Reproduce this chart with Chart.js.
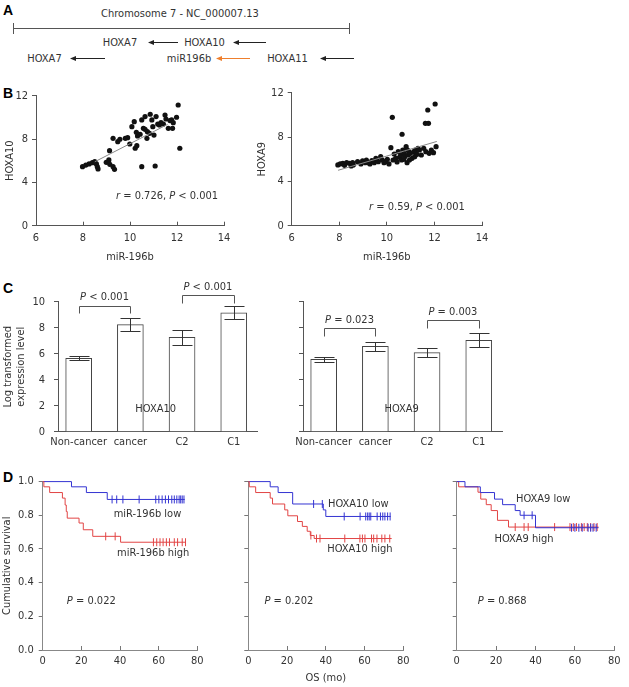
<!DOCTYPE html>
<html>
<head>
<meta charset="utf-8">
<script src="https://cdn.jsdelivr.net/npm/chart.js@4.4.0/dist/chart.umd.min.js"></script>
<style>
  html, body { margin: 0; padding: 0; background: #fff; }
  #page { position: relative; width: 629px; height: 687px; overflow: hidden; }
  #page canvas, #page svg { position: absolute; left: 0; top: 0; }
</style>
</head>
<body>
<div id="page">
  <svg width="629" height="687">
    <g font-family="'DejaVu Sans Condensed', 'DejaVu Sans', sans-serif" font-size="11" fill="#333">
      <text x="180" y="17" text-anchor="middle">Chromosome 7 - NC_000007.13</text>
      <text x="120" y="46" text-anchor="middle">HOXA7</text>
      <text x="204.5" y="46" text-anchor="middle">HOXA10</text>
      <text x="44.5" y="62" text-anchor="middle">HOXA7</text>
      <text x="189" y="62" text-anchor="middle">miR196b</text>
      <text x="287.5" y="62" text-anchor="middle">HOXA11</text>
    </g>
    <g stroke="#555" stroke-width="1" fill="none">
      <path d="M13 28.5 H350 M13.5 23 V34 M349.5 23 V34"/>
    </g>
    <g stroke="#222" stroke-width="1" fill="#222">
      <path d="M266 42.5 H238"/><path d="M233 42.5 L239 40 L239 45 Z" stroke="none"/>
      <path d="M178 42.5 H153"/><path d="M148 42.5 L154 40 L154 45 Z" stroke="none"/>
      <path d="M105 58.5 H75"/><path d="M70 58.5 L76 56 L76 61 Z" stroke="none"/>
      <path d="M354 58.5 H325"/><path d="M320 58.5 L326 56 L326 61 Z" stroke="none"/>
    </g>
    <g stroke="#ee7f2d" fill="#ee7f2d">
      <path d="M250 58.5 H221"/><path d="M216 58.5 L222 56 L222 61 Z" stroke="none"/>
    </g>
    <g font-family="'Liberation Sans', Arial, sans-serif" font-weight="bold" font-size="14" fill="#000">
      <text x="3" y="15">A</text>
      <text x="3" y="98">B</text>
      <text x="3" y="293">C</text>
      <text x="3" y="482">D</text>
    </g>
  </svg>
  <canvas id="scatterA10"></canvas>
  <canvas id="scatterA9"></canvas>
  <canvas id="barsA10"></canvas>
  <canvas id="barsA9"></canvas>
  <canvas id="kmMir"></canvas>
  <canvas id="kmA10"></canvas>
  <canvas id="kmA9"></canvas>
</div>
<script>
'use strict';

const FONT = "'DejaVu Sans Condensed', 'DejaVu Sans', sans-serif";

// B: miR-196b vs HOXA10
const mirForA10 = [7.98, 8.12, 8.26, 8.4, 8.5, 8.57, 8.61, 8.64, 8.99, 9.1, 9.14, 9.28, 9.34, 9.13,
  9.28, 9.48, 9.57, 9.8, 9.9, 9.99, 10.08, 10.18, 10.22, 10.29, 10.32, 10.43, 10.5, 10.57, 10.64,
  10.72, 10.74, 10.83, 10.86, 10.93, 10.97, 11.02, 11.11, 11.18, 11.25, 11.32, 11.42, 11.49, 11.53,
  11.63, 11.7, 11.77, 11.84, 11.81, 11.98, 12.05, 12.12, 10.5, 11.07, 10.64, 10.27];
const hoxa10Level = [5.45, 5.6, 5.7, 5.82, 5.91, 5.7, 5.45, 5.24, 5.85, 6.07, 5.67, 5.45, 5.2, 6.93,
  8.07, 7.76, 7.98, 8.07, 8.13, 7.54, 9.14, 9.6, 7.15, 7.39, 8.28, 8.44, 9.76, 8.99, 10.07,
  8.07, 8.68, 8.53, 10.29, 9.76, 9.14, 8.37, 10.07, 9.39, 9.3, 9.51, 9.39, 10.22, 9.85,
  8.99, 9.7, 9.76, 9.51, 8.99, 10.01, 11.14, 7.15, 5.45, 5.51, 8.9, 8.62];
const fitA10X = [8.5, 11.6];
const fitA10Y = [5.9, 9.35];

// B: miR-196b vs HOXA9
const mirForA9 = [7.94, 8.04, 8.15, 8.22, 8.31, 8.43, 8.5, 8.56, 8.59, 8.77, 8.91, 8.98, 9.09, 9.14,
  9.23, 9.29, 9.37, 9.47, 9.56, 9.64, 9.74, 9.81, 9.88, 9.95, 10.02, 10.09, 10.17, 10.23, 10.26,
  10.31, 10.37, 10.43, 10.48, 10.53, 10.58, 10.62, 10.64, 10.67, 10.71, 10.75, 10.81, 10.85, 10.87,
  10.89, 10.92, 10.95, 10.99, 11.06, 11.13, 11.2, 11.22, 11.31, 11.37, 11.45, 11.55, 11.62, 11.64,
  11.72, 11.75, 11.78, 11.87, 11.96, 12.03, 12.07, 11.17, 11.27, 10.71, 9.54];
const hoxa9Level = [5.48, 5.57, 5.63, 5.45, 5.69, 5.63, 5.39, 5.69, 5.48, 5.78, 5.57, 5.84, 5.69, 5.93,
  5.69, 5.57, 5.87, 5.69, 5.93, 5.78, 6.23, 5.93, 5.69, 5.78, 5.99, 5.57, 7.04, 9.78, 5.93,
  6.47, 6.08, 5.75, 6.68, 6.17, 6.38, 5.93, 8.25, 6.83, 6.53, 6.23, 7.13, 5.69, 6.83,
  6.38, 6.68, 5.93, 6.53, 6.08, 6.68, 6.83, 6.53, 6.98, 6.83, 6.38, 6.98, 9.24, 6.68,
  10.44, 9.24, 6.53, 6.83, 6.59, 10.98, 7.13, 6.23, 6.44, 5.99, 6.08];
const fitA9X = [7.95, 12.1];
const fitA9Y = [5.0, 7.6];

// C: log transformed expression level
const groups = ['Non-cancer', 'cancer', 'C2', 'C1'];
const hoxa10Mean = [5.65, 8.24, 7.25, 9.15];
const hoxa10Err = [0.16, 0.48, 0.6, 0.51];
const hoxa9Mean = [5.56, 6.57, 6.08, 7.03];
const hoxa9Err = [0.18, 0.35, 0.37, 0.53];

// D: Kaplan-Meier, time (mo) / survival / censored times
const mirLowT = [0, 14.9, 22.6, 33.4, 73.5];
const mirLowS = [1, 0.969, 0.935, 0.894, 0.894];
const mirLowCens = [35.9, 38.3, 41.5, 49.9, 58.5, 60.1, 61.8, 63.5, 65.1, 66.8, 68.1, 69.4, 70.6, 71.4, 72.2, 73.1];
const mirHighT = [0, 0.6, 3.6, 10.2, 11.6, 12.2, 12.7, 18.8, 21, 25.9, 40.3, 74];
const mirHighS = [1, 0.969, 0.935, 0.902, 0.861, 0.822, 0.783, 0.754, 0.714, 0.675, 0.64, 0.64];
const mirHighCens = [32.6, 37.5, 57.3, 59.0, 60.7, 62.3, 64.0, 65.6, 68.1, 69.8, 72.2, 73.9];

const a10LowT = [0, 11.3, 15.4, 22.9, 38.7, 40, 73.5];
const a10LowS = [1, 0.969, 0.935, 0.867, 0.832, 0.793, 0.793];
const a10LowCens = [33.7, 38.2, 49.5, 57.7, 60.6, 61.6, 62.4, 63.2, 66.5, 68.2, 69.4, 70.5, 71.9, 73.2];
const a10HighT = [0, 0.5, 3.8, 11.3, 12.5, 18.8, 20.4, 25.4, 27.9, 30.4, 32, 34, 74];
const a10HighS = [1, 0.969, 0.935, 0.902, 0.867, 0.832, 0.797, 0.763, 0.734, 0.705, 0.68, 0.662, 0.662];
const a10HighCens = [32.3, 35.2, 37, 49.8, 57.6, 58.9, 60.2, 63.6, 64.7, 66.4, 68.9, 70.5, 73];

const a9LowT = [0, 4.2, 12, 19.2, 23.3, 29.7, 32.2, 40, 72];
const a9LowS = [1, 0.969, 0.935, 0.896, 0.863, 0.828, 0.8, 0.726, 0.726];
const a9LowCens = [34.2, 38.3, 58.3, 60, 62, 63.7, 66.7, 68, 69.2, 70.8];
const a9HighT = [0, 1, 10.8, 12.2, 15, 17.5, 20.7, 26.3, 72];
const a9HighS = [1, 0.969, 0.937, 0.896, 0.863, 0.828, 0.77, 0.73, 0.73];
const a9HighCens = [29.7, 34.2, 36.3, 49.7, 57.5, 59.2, 60.8, 63.3, 64.7, 66.3, 68, 69.7, 71.3];

const BLUE = '#3434d2';
const RED = '#e24545';

Chart.defaults.font.family = FONT;
Chart.defaults.font.size = 11;
Chart.defaults.color = '#333';
Chart.defaults.animation = false;
Chart.defaults.plugins.legend.display = false;
Chart.defaults.plugins.tooltip.enabled = false;

// canvas placement so that the plot area lands where it should on the page
function frame(id, box, area) {
  const canvas = document.getElementById(id);
  canvas.style.left = box.x + 'px';
  canvas.style.top = box.y + 'px';
  canvas.width = box.w;
  canvas.height = box.h;
  return {
    canvas: canvas,
    padding: { top: area.t - box.y, right: box.x + box.w - area.r, bottom: 0, left: 0 },
    yWidth: area.l - box.x,
    xHeight: box.y + box.h - area.b
  };
}

// text with *italic* parts
function drawRich(ctx, text, x, y, align) {
  const parts = text.split('*');
  const fontOf = i => (i % 2 ? 'italic ' : '') + '11px ' + FONT;
  let width = 0;
  parts.forEach((p, i) => { ctx.font = fontOf(i); width += ctx.measureText(p).width; });
  let cx = align === 'center' ? x - width / 2 : align === 'right' ? x - width : x;
  ctx.textAlign = 'left';
  ctx.textBaseline = 'middle';
  parts.forEach((p, i) => {
    ctx.font = fontOf(i);
    ctx.fillText(p, cx, y);
    cx += ctx.measureText(p).width;
  });
}

function notes(items) {
  return {
    id: 'notes',
    afterDatasetsDraw(chart) {
      const ctx = chart.ctx;
      ctx.save();
      ctx.fillStyle = '#333';
      items.forEach(n => {
        drawRich(ctx, n.text, chart.scales.x.getPixelForValue(n.x), chart.scales.y.getPixelForValue(n.y), n.align);
      });
      ctx.restore();
    }
  };
}

function errorBars(means, errs) {
  return {
    id: 'errorBars',
    afterDatasetsDraw(chart) {
      const ctx = chart.ctx;
      const xs = chart.scales.x;
      const ys = chart.scales.y;
      ctx.save();
      ctx.strokeStyle = '#333';
      ctx.lineWidth = 1;
      ctx.beginPath();
      means.forEach((m, i) => {
        const x = Math.round(xs.getPixelForValue(i)) + 0.5;
        const hi = Math.round(ys.getPixelForValue(m + errs[i])) + 0.5;
        const lo = Math.round(ys.getPixelForValue(m - errs[i])) + 0.5;
        ctx.moveTo(x, hi); ctx.lineTo(x, lo);
        ctx.moveTo(x - 10, hi); ctx.lineTo(x + 10, hi);
        ctx.moveTo(x - 10, lo); ctx.lineTo(x + 10, lo);
      });
      ctx.stroke();
      ctx.restore();
    }
  };
}

function brackets(list) {
  return {
    id: 'brackets',
    afterDatasetsDraw(chart) {
      const ctx = chart.ctx;
      const xs = chart.scales.x;
      const ys = chart.scales.y;
      ctx.save();
      ctx.strokeStyle = '#555';
      ctx.lineWidth = 1;
      ctx.beginPath();
      list.forEach(b => {
        const x1 = Math.round(xs.getPixelForValue(b.from)) + 0.5;
        const x2 = Math.round(xs.getPixelForValue(b.to)) + 0.5;
        const top = Math.round(ys.getPixelForValue(b.top)) + 0.5;
        const leg = Math.round(ys.getPixelForValue(b.leg)) + 0.5;
        ctx.moveTo(x1, leg); ctx.lineTo(x1, top); ctx.lineTo(x2, top); ctx.lineTo(x2, leg);
      });
      ctx.stroke();
      ctx.restore();
    }
  };
}

function makeScatter(id, box, area, xs, ys, fitX, fitY, yTitle, yTitlePad, note) {
  const f = frame(id, box, area);
  new Chart(f.canvas, {
    type: 'scatter',
    data: {
      datasets: [
        { data: fitX.map((x, i) => ({ x: x, y: fitY[i] })), showLine: true, pointRadius: 0, borderColor: '#888', borderWidth: 1 },
        { data: xs.map((x, i) => ({ x: x, y: ys[i] })), pointRadius: 2.6, backgroundColor: '#111', borderWidth: 0 }
      ]
    },
    options: {
      responsive: false,
      layout: { padding: f.padding },
      scales: {
        x: {
          min: 6, max: 14,
          ticks: { stepSize: 2, padding: 9.7, maxRotation: 0 },
          grid: { drawOnChartArea: false, tickLength: -4, color: '#555' },
          border: { color: '#555' },
          title: { display: true, text: 'miR-196b', padding: { top: 0, bottom: 2.4 } },
          afterFit: s => { s.height = f.xHeight; }
        },
        y: {
          min: 0, max: 12,
          ticks: { stepSize: 4, padding: 4 },
          grid: { drawOnChartArea: false, tickLength: 4, color: '#555' },
          border: { color: '#555' },
          title: { display: true, text: yTitle, padding: { top: yTitlePad, bottom: 0 } },
          afterFit: s => { s.width = f.yWidth; }
        }
      }
    },
    plugins: [notes([note])]
  });
}

function makeBars(id, box, area, means, errs, showY, bracketList, noteList) {
  const f = frame(id, box, area);
  new Chart(f.canvas, {
    type: 'bar',
    data: {
      datasets: [{
        data: means.map((m, i) => ({ x: i, y: m })),
        backgroundColor: '#fff', borderColor: '#444', borderWidth: 1, barThickness: 26
      }]
    },
    options: {
      responsive: false,
      layout: { padding: f.padding },
      scales: {
        x: {
          type: 'linear', min: -0.4, max: 3.45, offset: false,
          ticks: {
            stepSize: 1, includeBounds: false, padding: 3.7,
            maxRotation: 0, minRotation: 0, autoSkip: false,
            callback: v => groups[v] || ''
          },
          grid: { drawOnChartArea: false, drawTicks: false, offset: false },
          border: { color: '#555' },
          afterFit: s => { s.height = f.xHeight; }
        },
        y: {
          min: 0, max: 10,
          ticks: { stepSize: 2, padding: 9, callback: v => showY ? v : '' },
          grid: { drawOnChartArea: false, tickLength: 4, color: '#555' },
          border: { color: '#555' },
          title: {
            display: showY, text: ['Log transformed', 'expression level'],
            font: { lineHeight: 1.1 }, padding: { top: 2.5, bottom: 0 }
          },
          afterFit: s => { s.width = f.yWidth; }
        }
      }
    },
    plugins: [errorBars(means, errs), brackets(bracketList), notes(noteList)]
  });
}

function stepAt(times, surv, t) {
  let s = surv[0];
  times.forEach((tt, i) => { if (tt <= t) s = surv[i]; });
  return s;
}

function kmSets(times, surv, cens, color) {
  return [
    {
      data: times.map((t, i) => ({ x: t, y: surv[i] })),
      showLine: true, stepped: true, pointRadius: 0, borderColor: color, borderWidth: 1, clip: false
    },
    {
      data: cens.map(t => ({ x: t, y: stepAt(times, surv, t) })),
      pointStyle: 'line', rotation: 90, pointRadius: 4, borderColor: color, borderWidth: 1, clip: false
    }
  ];
}

function makeSurvival(id, box, area, sets, noteList, showY, showXTitle) {
  const f = frame(id, box, area);
  new Chart(f.canvas, {
    type: 'scatter',
    data: { datasets: sets },
    options: {
      responsive: false,
      layout: { padding: f.padding },
      scales: {
        x: {
          min: 0, max: 80,
          ticks: { stepSize: 20, padding: 8.4, maxRotation: 0 },
          grid: { drawOnChartArea: false, tickLength: -4, color: '#777' },
          border: { color: '#888' },
          title: { display: showXTitle, text: 'OS (mo)', padding: { top: 0, bottom: 2.4 } },
          afterFit: s => { s.height = f.xHeight; }
        },
        y: {
          min: 0, max: 1,
          ticks: { stepSize: 0.2, padding: 5, callback: v => showY ? v.toFixed(1) : '' },
          grid: { drawOnChartArea: false, tickLength: 4, color: '#777' },
          border: { color: '#888' },
          title: { display: showY, text: 'Cumulative survival', padding: { top: 0.5, bottom: 0 } },
          afterFit: s => { s.width = f.yWidth; }
        }
      }
    },
    plugins: [notes(noteList)]
  });
}

// Panel B
makeScatter('scatterA10', { x: 0, y: 84, w: 240, h: 182 }, { l: 36, t: 95.7, r: 226, b: 225.7 },
  mirForA10, hoxa10Level, fitA10X, fitA10Y, 'HOXA10', 3.4,
  { text: '*r* = 0.726, *P* < 0.001', x: 13.75, y: 2.7, align: 'right' });
makeScatter('scatterA9', { x: 248, y: 82, w: 250, h: 184 }, { l: 291.7, t: 92.7, r: 484, b: 225.7 },
  mirForA9, hoxa9Level, fitA9X, fitA9Y, 'HOXA9', 7.4,
  { text: '*r* = 0.59, *P* < 0.001', x: 13.28, y: 1.7, align: 'right' });

// Panel C
makeBars('barsA10', { x: 0, y: 276, w: 262, h: 174 }, { l: 58, t: 301.7, r: 257, b: 431.7 },
  hoxa10Mean, hoxa10Err, true,
  [{ from: 0, to: 1, top: 9.7, leg: 9.1 }, { from: 2, to: 3, top: 10.5, leg: 9.9 }],
  [{ text: '*P* < 0.001', x: 0.5, y: 10.38, align: 'center' },
   { text: '*P* < 0.001', x: 2.5, y: 11.1, align: 'center' },
   { text: 'HOXA10', x: 1.49, y: 1.75, align: 'center' }]);
makeBars('barsA9', { x: 262, y: 276, w: 267, h: 174 }, { l: 303, t: 301.7, r: 502, b: 431.7 },
  hoxa9Mean, hoxa9Err, false,
  [{ from: 0, to: 1, top: 8.0, leg: 7.38 }, { from: 2, to: 3, top: 8.6, leg: 8.0 }],
  [{ text: '*P* = 0.023', x: 0.5, y: 8.59, align: 'center' },
   { text: '*P* = 0.003', x: 2.5, y: 9.18, align: 'center' },
   { text: 'HOXA9', x: 1.51, y: 1.75, align: 'center' }]);

// Panel D
makeSurvival('kmMir', { x: 0, y: 470, w: 212, h: 217 }, { l: 42.7, t: 480.7, r: 204, b: 650 },
  kmSets(mirHighT, mirHighS, mirHighCens, RED).concat(kmSets(mirLowT, mirLowS, mirLowCens, BLUE)),
  [{ text: 'miR-196b low', x: 54.2, y: 0.807, align: 'center' },
   { text: 'miR-196b high', x: 57.2, y: 0.573, align: 'center' },
   { text: '*P* = 0.022', x: 12.5, y: 0.291, align: 'left' }], true, false);
makeSurvival('kmA10', { x: 212, y: 470, w: 206, h: 217 }, { l: 248.3, t: 480.7, r: 409, b: 650 },
  kmSets(a10HighT, a10HighS, a10HighCens, RED).concat(kmSets(a10LowT, a10LowS, a10LowCens, BLUE)),
  [{ text: 'HOXA10 low', x: 56.8, y: 0.866, align: 'center' },
   { text: 'HOXA10 high', x: 57.6, y: 0.597, align: 'center' },
   { text: '*P* = 0.202', x: 8.3, y: 0.289, align: 'left' }], false, true);
makeSurvival('kmA9', { x: 418, y: 470, w: 211, h: 217 }, { l: 456.7, t: 480.7, r: 616.7, b: 650 },
  kmSets(a9LowT, a9LowS, a9LowCens, BLUE).concat(kmSets(a9HighT, a9HighS, a9HighCens, RED)),
  [{ text: 'HOXA9 low', x: 43.9, y: 0.896, align: 'center' },
   { text: 'HOXA9 high', x: 34.2, y: 0.66, align: 'center' },
   { text: '*P* = 0.868', x: 10.7, y: 0.289, align: 'left' }], false, false);
</script>
</body>
</html>
